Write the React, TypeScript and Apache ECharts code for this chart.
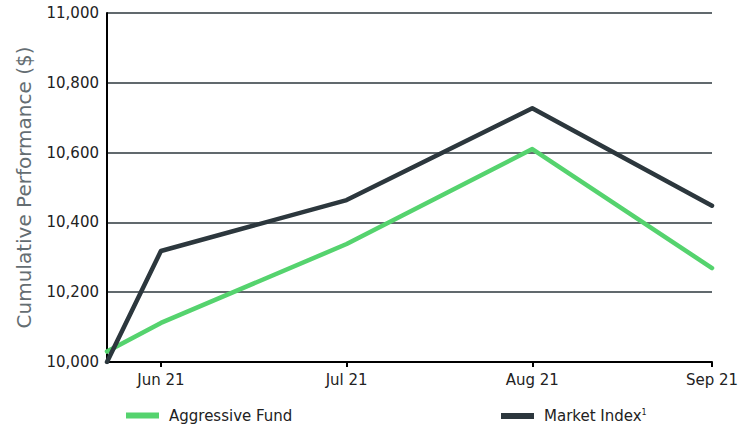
import React, { useEffect, useRef } from "react";
import * as echarts from "echarts";

const dates: string[] = ["2021-06-21", "2021-06-30", "2021-07-31", "2021-08-31", "2021-09-30"];
const fundValues: number[] = [10030, 10112, 10338, 10610, 10269];
const indexValues: number[] = [10000, 10318, 10464, 10727, 10448];
const tickDates: string[] = ["2021-06-30", "2021-07-31", "2021-08-31", "2021-09-30"];
const monthNames: string[] = ["Jan", "Feb", "Mar", "Apr", "May", "Jun", "Jul", "Aug", "Sep", "Oct", "Nov", "Dec"];
const yTicks: number[] = [10000, 10200, 10400, 10600, 10800, 11000];

const DAY = 86400000;
const ts = (d: string) => {
  const [y, m, dd] = d.split("-").map(Number);
  return Date.UTC(y, m - 1, dd);
};
const T0 = ts(dates[0]);
const dayOf = (d: string) => Math.round((ts(d) - T0) / DAY);

const FONT = "'DejaVu Sans', sans-serif";

export default function App() {
  const ref = useRef<HTMLDivElement>(null);
  useEffect(() => {
    if (!ref.current) return;
    const chart = echarts.init(ref.current, undefined, { renderer: "svg" });
    const tickDays = tickDates.map(dayOf);
    chart.setOption({
      animation: false,
      grid: { left: 107, right: 41, top: 13, bottom: 66, containLabel: false },
      legend: [
        {
          data: ["Aggressive Fund"],
          left: 126,
          top: 408,
          padding: 0,
          icon: "rect",
          itemWidth: 33,
          itemHeight: 6,
          textStyle: { fontFamily: FONT, fontSize: 15, color: "#222", padding: [0, 0, 0, 5] },
        },
        {
          data: ["Market Index"],
          left: 501,
          top: 408,
          padding: 0,
          icon: "rect",
          itemWidth: 33,
          itemHeight: 6,
          formatter: (n: string) => `{a|${n}}{s|1}`,
          textStyle: {
            fontFamily: FONT,
            fontSize: 15,
            color: "#222",
            padding: [0, 0, 0, 5],
            rich: {
              a: { fontFamily: FONT, fontSize: 15, color: "#222" },
              s: { fontFamily: FONT, fontSize: 8, color: "#222", verticalAlign: "top", padding: [0, 0, 8, 0] },
            },
          },
        },
      ],
      xAxis: {
        type: "value",
        min: 0,
        max: dayOf(dates[dates.length - 1]),
        axisLine: { show: true, lineStyle: { color: "#000", width: 2 } },
        axisTick: {
          show: true,
          length: 5,
          lineStyle: { color: "#000", width: 2 },
          customValues: tickDays,
        },
        axisLabel: {
          customValues: tickDays,
          fontFamily: FONT,
          fontSize: 15,
          color: "#222",
          margin: 10,
          showMinLabel: true,
          showMaxLabel: true,
          formatter: (v: number) => {
            const d = new Date(T0 + v * DAY);
            return `${monthNames[d.getUTCMonth()]} ${String(d.getUTCFullYear()).slice(2)}`;
          },
        },
        splitLine: { show: false },
      },
      yAxis: {
        type: "value",
        min: yTicks[0],
        max: yTicks[yTicks.length - 1],
        interval: 200,
        name: "Cumulative Performance ($)",
        nameLocation: "middle",
        nameGap: 73,
        nameTextStyle: { fontFamily: FONT, fontSize: 20, color: "#646d72" },
        axisLine: { show: true, lineStyle: { color: "#000", width: 2 } },
        axisTick: { show: false },
        axisLabel: {
          fontFamily: FONT,
          fontSize: 15,
          color: "#222",
          margin: 8,
          formatter: (v: number) => v.toLocaleString("en-US"),
        },
        splitLine: { show: true, lineStyle: { color: "#2c373d", width: 1.5 } },
      },
      series: [
        {
          name: "Aggressive Fund",
          type: "line",
          data: dates.map((d, i) => [dayOf(d), fundValues[i]]),
          showSymbol: false,
          symbol: "none",
          lineStyle: { color: "#55d36e", width: 4.5, cap: "round", join: "round" },
          itemStyle: { color: "#55d36e" },
          z: 3,
        },
        {
          name: "Market Index",
          type: "line",
          data: dates.map((d, i) => [dayOf(d), indexValues[i]]),
          showSymbol: false,
          symbol: "none",
          lineStyle: { color: "#2c373d", width: 4.5, cap: "round", join: "round" },
          itemStyle: { color: "#2c373d" },
          z: 4,
        },
      ],
    });
    return () => chart.dispose();
  }, []);
  return <div ref={ref} style={{ width: 753, height: 428, position: "absolute", left: 0, top: 0 }} />;
}
